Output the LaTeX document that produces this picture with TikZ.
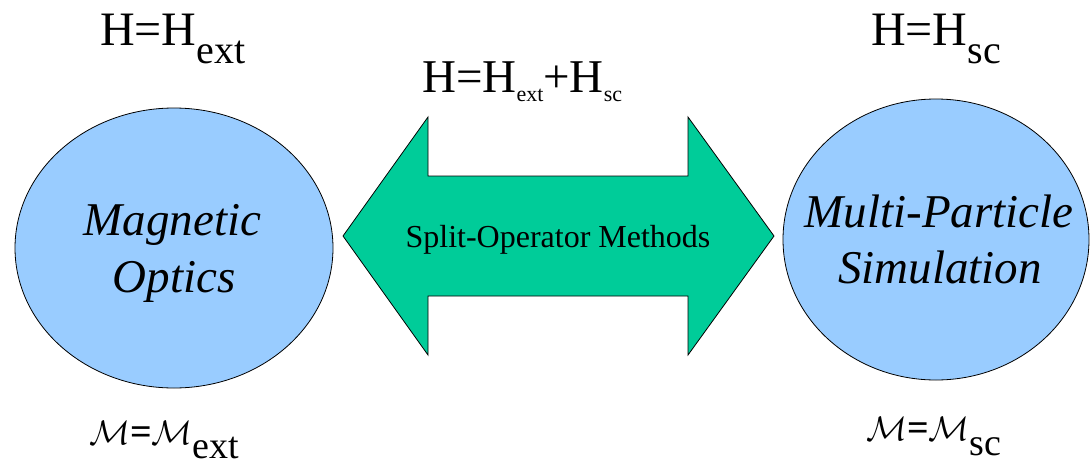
\RequirePackage{fix-cm}
\documentclass[tikz,border=0pt]{standalone}
\usepackage{fontspec}
\setmainfont{Liberation Serif}
\usetikzlibrary{shapes.geometric}
\definecolor{bubble}{RGB}{153,204,255}
\definecolor{arrowgreen}{RGB}{0,204,153}
\newcommand{\lowsub}[3]{\raisebox{-#1pt}{\fontsize{#2}{#2}\selectfont #3}}
\tikzset{
  blob/.style={ellipse, draw=black, line width=0.8pt, fill=bubble, inner sep=0pt},
  txt/.style={inner sep=0pt, anchor=base west},
  itxt/.style={inner sep=0pt, anchor=base, font=\fontsize{47}{56}\selectfont\itshape},
  bigarrow/.style={draw=black, line width=0.8pt, fill=arrowgreen, line join=miter}
}
\begin{document}
\begin{tikzpicture}[x=1pt,y=-1pt]
\useasboundingbox (0,0) rectangle (1090,464);
% ellipses
\node[blob, minimum width=318pt, minimum height=280pt] (mo) at (174,248) {};
\node[blob, minimum width=306pt, minimum height=281pt] (mp) at (936,239.5) {};
% double arrow between the ellipses
\coordinate (ltip) at (343,236);
\coordinate (rtip) at (774,236);
\draw[bigarrow] (ltip) -- (428,117) -- (428,176) -- (688,176) -- (688,117) -- (rtip)
  -- (688,355) -- (688,296) -- (428,296) -- (428,355) -- cycle;
\node[inner sep=0pt, anchor=base, font=\fontsize{32}{38}\selectfont] (som) at (558,247) {Split-Operator Methods};
% texts in the ellipses
\node[itxt] (mag) at (172.5,235) {Magnetic};
\node[itxt] (opt) at (174,292) {Optics};
\node[itxt] (mul) at (939,227) {Multi-Particle};
\node[itxt] (sim) at (940,283) {Simulation};
% Hamiltonians
\node[txt, font=\fontsize{48}{56}\selectfont] (hext) at (100,45) {H=H\lowsub{18}{40}{ext}};
\node[txt, font=\fontsize{48}{56}\selectfont] (hsc) at (871,45) {H=H\lowsub{18}{40}{sc}};
\node[txt, font=\fontsize{47}{56}\selectfont] (hsum) at (422,92) {H=H\lowsub{9}{22}{ext}+H\lowsub{9}{22}{sc}};
% maps
\node[txt] (mext) at (89,444) {\fontsize{34}{40}\selectfont$\mathcal{M}$\fontsize{38}{40}\selectfont\bfseries=\mdseries\fontsize{34}{40}\selectfont$\mathcal{M}$\lowsub{14}{38}{ext}};
\node[txt] (msc) at (866,440) {\fontsize{34}{40}\selectfont$\mathcal{M}$\fontsize{38}{40}\selectfont\bfseries=\mdseries\fontsize{34}{40}\selectfont$\mathcal{M}$\lowsub{15}{38}{sc}};
\end{tikzpicture}
\end{document}
